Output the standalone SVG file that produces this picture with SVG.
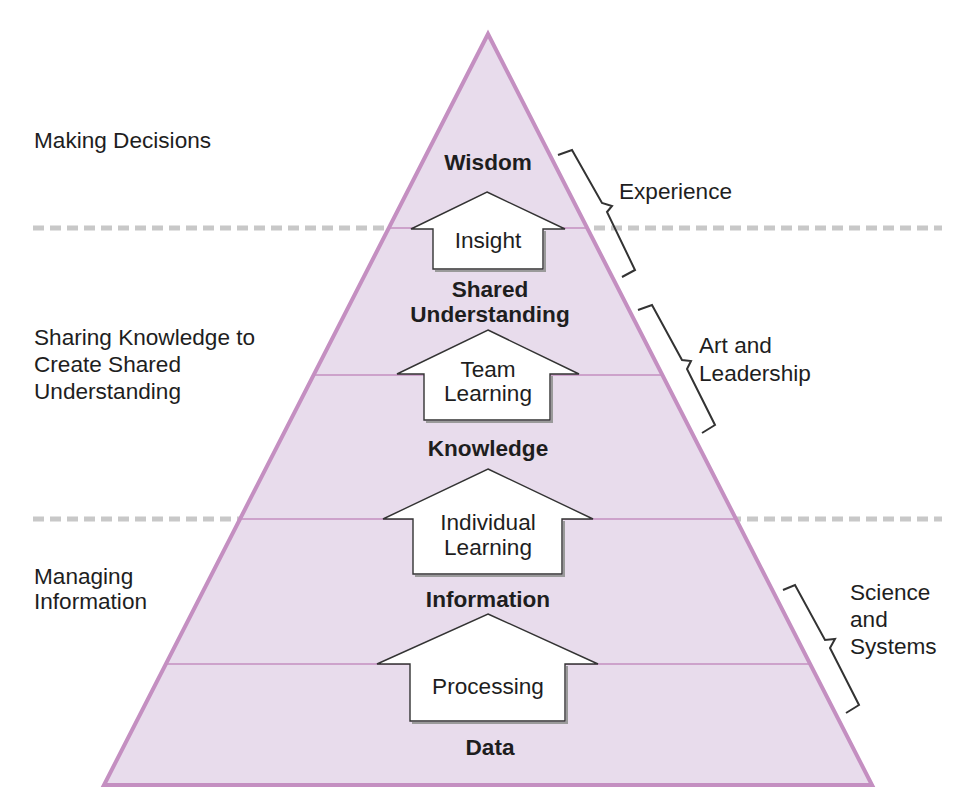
<svg xmlns="http://www.w3.org/2000/svg" width="954" height="789" viewBox="0 0 954 789">
  <style>
    .lbl { font-family: "Liberation Sans", Arial, sans-serif; font-size: 22.6px; fill: #1e1e1e; }
    .ctr { text-anchor: middle; }
    .bold { font-weight: bold; }
    .sep { stroke: #c8c8c8; stroke-width: 5; stroke-dasharray: 11 6; fill: none; }
    .tier { stroke: #c48fc1; stroke-width: 1.5; fill: none; }
    .arrow { fill: #ffffff; stroke: #333333; stroke-width: 1.4; stroke-linejoin: miter; }
    .shadow { fill: none; stroke: #9a9a9a; stroke-width: 2; }
    .brace { fill: none; stroke: #333333; stroke-width: 2; stroke-linejoin: miter; }
  </style>
  <rect width="954" height="789" fill="#ffffff"/>

  <!-- section separators -->
  <g id="separators">
    <line class="sep" x1="33" y1="228" x2="942" y2="228"/>
    <line class="sep" x1="33" y1="519" x2="942" y2="519"/>
  </g>

  <!-- pyramid -->
  <g id="pyramid">
    <polygon points="488,34 872,785 104,785" fill="#e8dcec" stroke="#c48fc1" stroke-width="4" stroke-linejoin="miter"/>
    <line class="tier" x1="389" y1="228" x2="587" y2="228"/>
    <line class="tier" x1="314" y1="375" x2="662" y2="375"/>
    <line class="tier" x1="240" y1="519" x2="736" y2="519"/>
    <line class="tier" x1="166" y1="664" x2="810" y2="664"/>
  </g>

  <!-- upward arrows between tiers -->
  <g id="connectors">
    <g id="arrow-insight">
      <path class="shadow" d="M545,231 L545,271 L435,271"/>
      <path class="arrow" d="M487,192 L565,229 L543,229 L543,269 L433,269 L433,229 L411,229 Z"/>
      <text class="lbl ctr" x="488" y="248">Insight</text>
    </g>
    <g id="arrow-team">
      <path class="shadow" d="M552,376 L552,422 L426,422"/>
      <path class="arrow" d="M488,330 L579,374 L550,374 L550,420 L424,420 L424,374 L397,374 Z"/>
      <text class="lbl ctr" x="488" y="377">Team</text>
      <text class="lbl ctr" x="488" y="401">Learning</text>
    </g>
    <g id="arrow-individual">
      <path class="shadow" d="M564,521 L564,576 L415,576"/>
      <path class="arrow" d="M488,469 L593,519 L562,519 L562,574 L413,574 L413,519 L383,519 Z"/>
      <text class="lbl ctr" x="488" y="530">Individual</text>
      <text class="lbl ctr" x="488" y="555">Learning</text>
    </g>
    <g id="arrow-processing">
      <path class="shadow" d="M567,666 L567,723 L412,723"/>
      <path class="arrow" d="M488,614 L598,664 L565,664 L565,721 L410,721 L410,664 L377,664 Z"/>
      <text class="lbl ctr" x="488" y="694">Processing</text>
    </g>
  </g>

  <!-- tier names -->
  <g id="tier-wisdom"><text class="lbl ctr bold" x="488" y="170">Wisdom</text></g>
  <g id="tier-shared">
    <text class="lbl ctr bold" x="490" y="297">Shared</text>
    <text class="lbl ctr bold" x="490" y="322">Understanding</text>
  </g>
  <g id="tier-knowledge"><text class="lbl ctr bold" x="488" y="456">Knowledge</text></g>
  <g id="tier-information"><text class="lbl ctr bold" x="488" y="607">Information</text></g>
  <g id="tier-data"><text class="lbl ctr bold" x="490" y="755">Data</text></g>

  <!-- left-hand section titles -->
  <g id="section-decisions"><text class="lbl" x="34" y="148">Making Decisions</text></g>
  <g id="section-sharing">
    <text class="lbl" x="34" y="345">Sharing Knowledge to</text>
    <text class="lbl" x="34" y="372">Create Shared</text>
    <text class="lbl" x="34" y="399">Understanding</text>
  </g>
  <g id="section-managing">
    <text class="lbl" x="34" y="584">Managing</text>
    <text class="lbl" x="34" y="609">Information</text>
  </g>

  <!-- right-hand braces -->
  <g id="brace-experience">
    <path class="brace" d="M558,155 L572,150 L602,203 L612,206 L607,212 L635,270 L622,277"/>
    <text class="lbl" x="619" y="199">Experience</text>
  </g>
  <g id="brace-art">
    <path class="brace" d="M638,310 L652,305 L682,360 L691,361 L687,369 L715,425 L702,433"/>
    <text class="lbl" x="699" y="353">Art and</text>
    <text class="lbl" x="699" y="381">Leadership</text>
  </g>
  <g id="brace-science">
    <path class="brace" d="M783,590 L795,585 L825,640 L835,639 L830,648 L859,705 L846,713"/>
    <text class="lbl" x="850" y="600">Science</text>
    <text class="lbl" x="850" y="627">and</text>
    <text class="lbl" x="850" y="654">Systems</text>
  </g>
</svg>
